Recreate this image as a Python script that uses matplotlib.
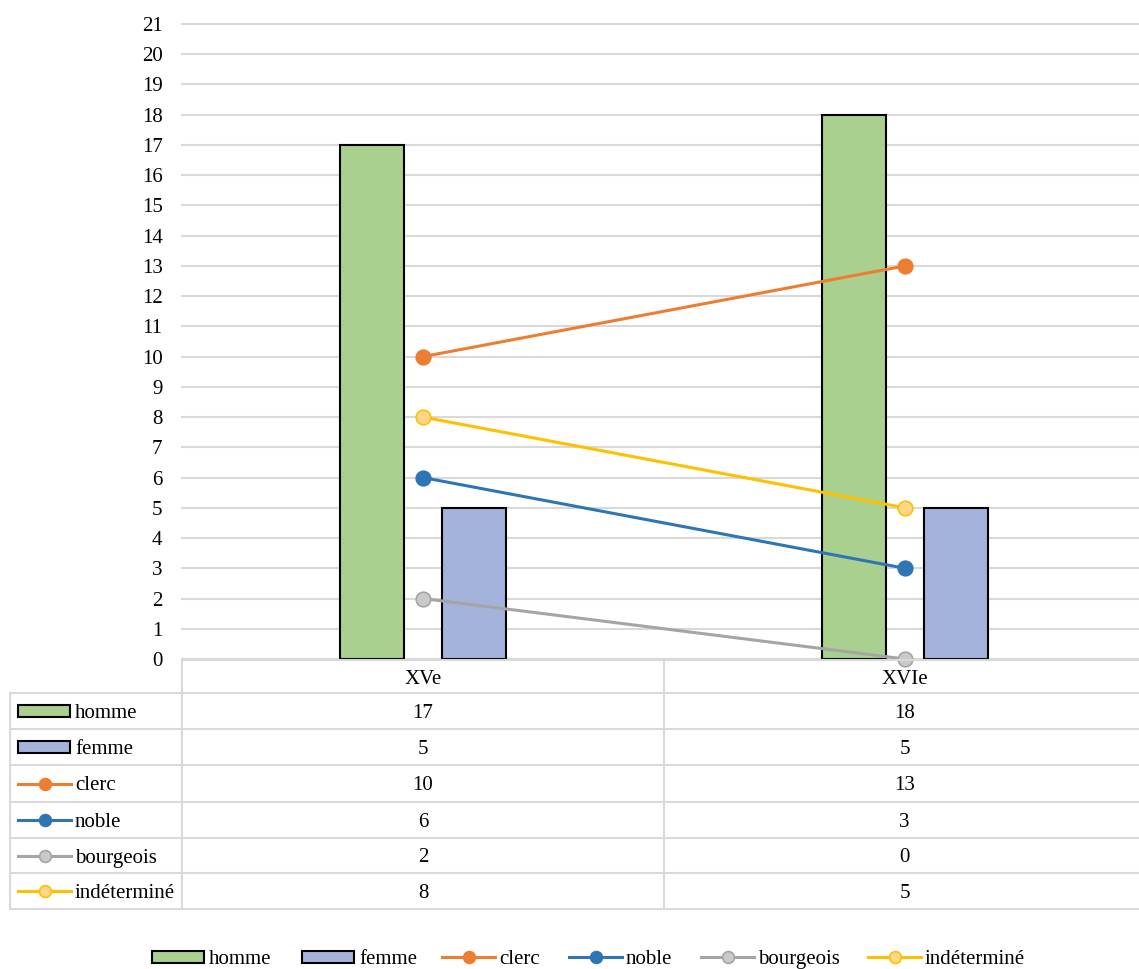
import matplotlib.pyplot as plt
from matplotlib.patches import Rectangle
from matplotlib.lines import Line2D

plt.rcParams['font.family'] = ['Liberation Serif', 'DejaVu Serif']

# data
periods = ['XVe', 'XVIe']
homme = [17, 18]
femme = [5, 5]
clerc = [10, 13]
noble = [6, 3]
bourgeois = [2, 0]
indetermine = [8, 5]

W, H = 1139, 969
fig = plt.figure(figsize=(W / 100, H / 100), dpi=100)

# plot area in pixels (left, top, right, bottom)
pl, pt, pr, pb = 182, 24, 1139, 659
ax = fig.add_axes([pl / W, 1 - pb / H, (pr - pl) / W, (pb - pt) / H])
cat_w = 482  # px per category
ax.set_xlim(-0.5, -0.5 + (pr - pl) / cat_w)
ax.set_ylim(0, 21)
ax.set_yticks(range(0, 22))
ax.tick_params(axis='y', length=0, labelsize=15, pad=14)
ax.tick_params(axis='x', length=0, labelbottom=False)
for s in ax.spines.values():
    s.set_visible(False)
ax.grid(axis='y', color='#D9D9D9', lw=1.5)
ax.set_axisbelow(True)
for gl in ax.get_ygridlines():
    gl.set_clip_on(False)

grid_c = '#D9D9D9'
bar_w = 64 / cat_w
off = 51 / cat_w
x = list(range(len(periods)))

bars = [
    ('homme', homme, '#A9D08E'),
    ('femme', femme, '#A4B3DB'),
]
lines = [
    ('clerc', clerc, '#ED7D31', '#ED7D31'),
    ('noble', noble, '#2E75B6', '#2E75B6'),
    ('bourgeois', bourgeois, '#A5A5A5', '#C9C9C9'),
    ('indéterminé', indetermine, '#FFC000', '#FFD68A'),
]

ax.bar([i - off for i in x], homme, bar_w, color=bars[0][2], edgecolor='black', lw=1.5, zorder=2)
ax.bar([i + off for i in x], femme, bar_w, color=bars[1][2], edgecolor='black', lw=1.5, zorder=2)
for name, vals, c, fc in lines:
    ax.plot(x, vals, color=c, lw=2.2, marker='o', ms=10.5, mfc=fc, mec=c, mew=1.2,
            zorder=3, clip_on=False)


# ---- data table (figure pixel coords) ----
def fx(px):
    return px / W


def fy(py):
    return 1 - py / H


def hline(x0, x1, y):
    fig.add_artist(Line2D([fx(x0), fx(x1)], [fy(y), fy(y)], color=grid_c, lw=1.5))


def vline(xx, y0, y1):
    fig.add_artist(Line2D([fx(xx), fx(xx)], [fy(y0), fy(y1)], color=grid_c, lw=1.5))


left, colx, mid, right = 10, 182, 664, 1139
row_y = [660, 693, 729, 765, 802, 838, 873, 909]
hline(colx, right, row_y[0])
for y in row_y[1:]:
    hline(left, right, y)
vline(left, row_y[1], row_y[-1])
vline(colx, row_y[0], row_y[-1])
vline(mid, row_y[0], row_y[-1])

fs = 15
va = 'center_baseline'
centers = [(colx + mid) / 2, (mid + right + 6) / 2]
for c, p in zip(centers, periods):
    fig.text(fx(c), fy((row_y[0] + row_y[1]) / 2), p, ha='center', va=va, fontsize=fs)

series = [(n, v, 'bar', c, None) for n, v, c in bars] + [(n, v, 'line', c, fc) for n, v, c, fc in lines]


def draw_key(x0, yc, kind, c, fc):
    if kind == 'bar':
        fig.add_artist(Rectangle((fx(x0), fy(yc + 6)), 52 / W, 12 / H, transform=fig.transFigure,
                                 facecolor=c, edgecolor='black', lw=1.5))
    else:
        fig.add_artist(Line2D([fx(x0), fx(x0 + 53)], [fy(yc), fy(yc)], color=c, lw=2.2))
        fig.add_artist(Line2D([fx(x0 + 26.5)], [fy(yc)], marker='o', ms=8.5, mfc=fc if fc else c,
                              mec=c, mew=1.2))


for r, (name, vals, kind, c, fc) in enumerate(series):
    yc = (row_y[r + 1] + row_y[r + 2]) / 2
    draw_key(18, yc, kind, c, fc)
    fig.text(fx(75), fy(yc), name, ha='left', va=va, fontsize=fs)
    for cx, v in zip(centers, vals):
        fig.text(fx(cx), fy(yc), str(v), ha='center', va=va, fontsize=fs)

# ---- bottom legend ----
leg_y = 957
leg_x = [152, 302, 442, 569, 701, 868]
for lx, (name, vals, kind, c, fc) in zip(leg_x, series):
    draw_key(lx, leg_y, kind, c, fc)
    fig.text(fx(lx + 57), fy(leg_y), name, ha='left', va=va, fontsize=fs)

fig.savefig('out.png', dpi=100)
